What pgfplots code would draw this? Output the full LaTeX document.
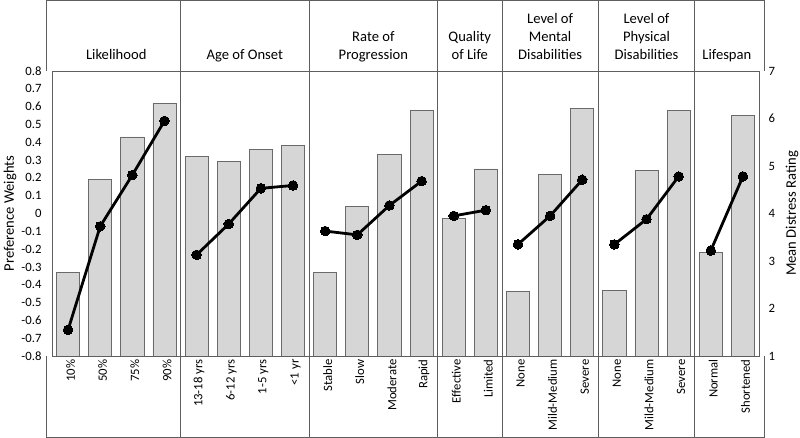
\documentclass[border=0pt]{standalone}
\usepackage{pgfplots}
\pgfplotsset{compat=1.18}
\usepackage{pgfplotstable}
\usepackage{fontspec}
\setmainfont{Carlito}
\definecolor{barfill}{HTML}{D6D6D6}
\definecolor{bardraw}{HTML}{6A6A6A}
\definecolor{framec}{HTML}{5E5E5E}

% Preference weights (left axis), bars
\pgfplotstableread{
x w
0 -0.33
1 0.19
2 0.43
3 0.62
4 0.32
5 0.29
6 0.36
7 0.38
8 -0.33
9 0.04
10 0.33
11 0.58
12 -0.03
13 0.25
14 -0.44
15 0.22
16 0.59
17 -0.43
18 0.24
19 0.58
20 -0.22
21 0.55
}\weights

% Mean distress rating (right axis), lines
\pgfplotstableread{
x d
0 1.55
1 3.73
2 4.81
3 5.95
3.5 nan
4 3.13
5 3.78
6 4.53
7 4.59
7.5 nan
8 3.63
9 3.55
10 4.17
11 4.68
11.5 nan
12 3.95
13 4.07
13.5 nan
14 3.35
15 3.95
16 4.71
16.5 nan
17 3.35
18 3.88
19 4.78
19.5 nan
20 3.22
21 4.78
}\distress

\begin{document}
\begin{tikzpicture}
\useasboundingbox (-52pt,-82pt) rectangle (748pt,356pt);
\begin{axis}[
  scale only axis, width=707pt, height=285pt,
  xmin=-0.5, xmax=21.5, ymin=0, ymax=1.6,
  axis line style={framec, line width=0.8pt},
  major tick length=0pt,
  xtick={0,...,21},
  xticklabels={10\%,50\%,75\%,90\%,13-18 yrs,6-12 yrs,1-5 yrs,<1 yr,Stable,Slow,Moderate,Rapid,Effective,Limited,None,Mild-Medium,Severe,None,Mild-Medium,Severe,Normal,Shortened},
  xticklabel style={rotate=90, anchor=east, font=\fontsize{12.7}{15}\selectfont, yshift=-2.5pt},
  ytick={0,0.1,0.2,0.3,0.4,0.5,0.6,0.7,0.8,0.9,1.0,1.1,1.2,1.3,1.4,1.5,1.6},
  yticklabels={-0.8,-0.7,-0.6,-0.5,-0.4,-0.3,-0.2,-0.1,0,0.1,0.2,0.3,0.4,0.5,0.6,0.7,0.8},
  yticklabel style={font=\fontsize{12.7}{15}\selectfont, xshift=-7pt},
  ylabel={Preference Weights},
  ylabel style={at={(axis description cs:-0.0594,0.5)}, anchor=center, font=\fontsize{14.6}{17}\selectfont},
]
\addplot[ybar, bar width=0.72, bar shift=0pt, fill=barfill, draw=bardraw, line width=0.8pt]
  table[x=x, y expr=\thisrow{w}+0.8] {\weights};
\end{axis}
\begin{axis}[
  scale only axis, width=707pt, height=285pt,
  xmin=-0.5, xmax=21.5, ymin=1, ymax=7,
  axis x line=none, axis y line*=right,
  axis line style={framec, line width=0.8pt},
  major tick length=0pt,
  ytick={1,2,3,4,5,6,7},
  /pgf/number format/assume math mode=true,
  yticklabel style={font=\fontsize{12.7}{15}\selectfont, xshift=6pt},
  clip=false, unbounded coords=jump,
]
\pgfplotsinvokeforeach{3.5,7.5,11.5,13.5,16.5,19.5}{
  \draw[framec, line width=0.8pt] ([yshift=-81pt]axis cs:#1,1) -- ([yshift=70.5pt]axis cs:#1,7);
}
\addplot[black, line width=2.8pt, line join=round, mark=*, mark size=4.8pt, mark options={fill=black, line width=0pt}]
  table[x=x, y=d] {\distress};
\node[rotate=90, anchor=center, font=\fontsize{14.6}{17}\selectfont] at ([xshift=33pt]axis cs:21.5,4) {Mean Distress Rating};
\begin{scope}[every node/.style={anchor=south, align=center, inner sep=0pt, font=\fontsize{14.6}{18}\selectfont}]
\node at ([yshift=5.5pt]axis cs:1.5,7) {Likelihood\strut};
\node at ([yshift=5.5pt]axis cs:5.5,7) {Age of Onset\strut};
\node at ([yshift=5.5pt]axis cs:9.5,7) {Rate of\\Progression\strut};
\node at ([yshift=5.5pt]axis cs:12.5,7) {Quality\\of Life\strut};
\node at ([yshift=5.5pt]axis cs:15,7) {Level of\\Mental\\Disabilities\strut};
\node at ([yshift=5.5pt]axis cs:18,7) {Level of\\Physical\\Disabilities\strut};
\node at ([yshift=5.5pt]axis cs:20.5,7) {Lifespan\strut};
\end{scope}
\end{axis}
% outer table frame
\draw[framec, line width=0.8pt] (-6pt,285pt) -- (-6pt,355.6pt) -- (712pt,355.6pt) -- (712pt,285pt);
\draw[framec, line width=0.8pt] (-6pt,0pt) -- (-6pt,-81.4pt) -- (712pt,-81.4pt) -- (712pt,0pt);
\end{tikzpicture}
\end{document}
